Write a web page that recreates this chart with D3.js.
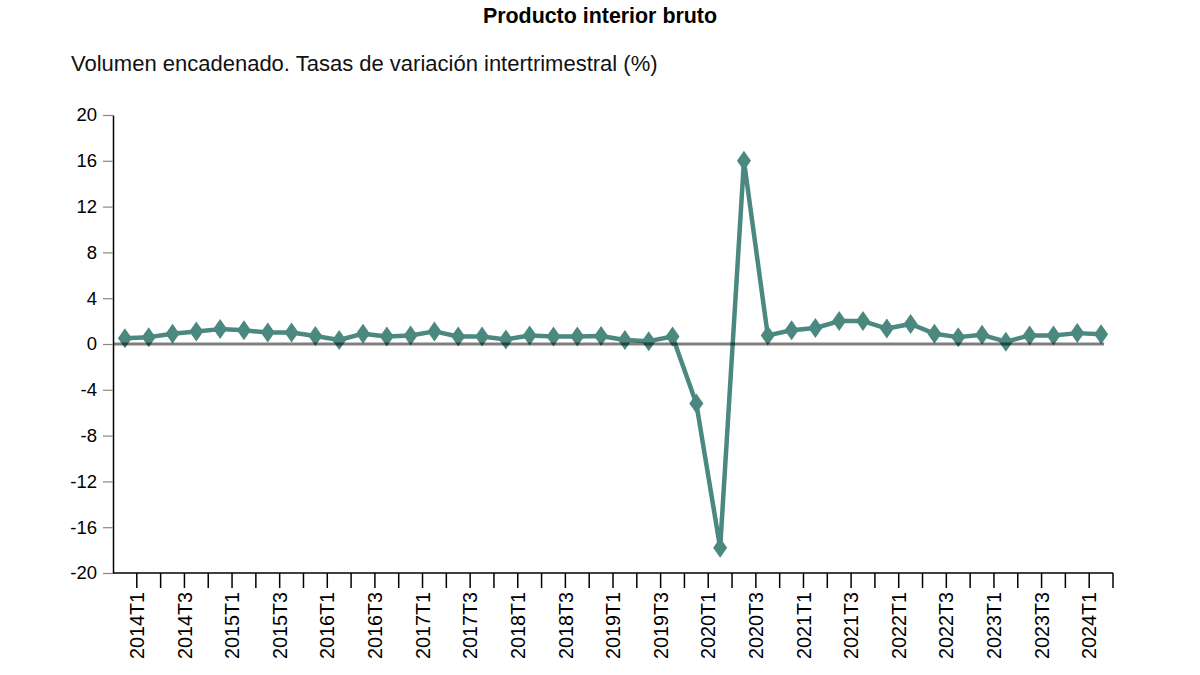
<!DOCTYPE html>
<html>
<head>
<meta charset="utf-8">
<script src="https://cdn.jsdelivr.net/npm/d3@7/dist/d3.min.js"></script>
<style>
  html, body { margin: 0; padding: 0; background: #fff; }
  svg { display: block; font-family: "Liberation Sans", Arial, Helvetica, sans-serif; }
</style>
</head>
<body>
<svg id="chart" width="1200" height="675"></svg>
<script>
const titleText = "Producto interior bruto";
const subtitleText = "Volumen encadenado. Tasas de variación intertrimestral (%)";

const years = [2014, 2015, 2016, 2017, 2018, 2019, 2020, 2021, 2022, 2023, 2024];
const quarters = [];
years.forEach(yr => [1, 2, 3, 4].forEach(q => { if (!(yr === 2024 && q > 2)) quarters.push(yr + "T" + q); }));

const values = [
  0.5, 0.6, 0.9, 1.1, 1.3, 1.2, 1.0, 1.0,
  0.7, 0.35, 0.9, 0.65, 0.75, 1.1, 0.65, 0.65,
  0.4, 0.75, 0.65, 0.65, 0.7, 0.35, 0.25, 0.65,
  -5.2, -17.8, 16.0, 0.75, 1.2, 1.4, 2.0, 2.0,
  1.35, 1.75, 0.9, 0.6, 0.8, 0.2, 0.75, 0.75,
  0.95, 0.85
];
const yTicks = [-20, -16, -12, -8, -4, 0, 4, 8, 12, 16, 20];

const svg = d3.select("#chart");
const mLeft = 113, mRight = 1113, mTop = 115, mBottom = 573;
const seriesColor = "#4b887f";

const x = d3.scaleBand().domain(quarters).range([mLeft, mRight]).padding(0);
const y = d3.scaleLinear().domain([-20, 20]).range([mBottom, mTop]);
const bw = x.bandwidth();
const cx = d => x(d) + bw / 2;

// Title and subtitle
svg.append("text").attr("x", 600).attr("y", 23).attr("text-anchor", "middle")
  .attr("font-size", 21.4).attr("font-weight", "bold").attr("fill", "#000").text(titleText);
svg.append("text").attr("x", 71).attr("y", 71)
  .attr("font-size", 22).attr("fill", "#111").text(subtitleText);

// Y axis
const yAxis = d3.axisLeft(y).tickValues(yTicks).tickFormat(d => String(d))
  .tickSize(10).tickPadding(6).tickSizeOuter(0);
const gy = svg.append("g").attr("transform", `translate(${mLeft},0)`).call(yAxis);
gy.select(".domain").attr("stroke", "#000").attr("stroke-width", 1.5);
gy.selectAll(".tick line").attr("stroke", "#888").attr("stroke-width", 1.2);
gy.selectAll(".tick text").attr("font-size", 18.5).attr("fill", "#000")
  .attr("font-family", "Liberation Sans, Arial, sans-serif");

// X axis: ticks at right edge of each band
const gx = svg.append("g").attr("transform", `translate(0,${mBottom})`);
gx.append("line").attr("x1", mLeft).attr("x2", mRight).attr("y1", 0).attr("y2", 0)
  .attr("stroke", "#000").attr("stroke-width", 1.5);
const xt = gx.selectAll("g.xt").data(quarters).join("g").attr("class", "xt")
  .attr("transform", d => `translate(${x(d) + bw},0)`);
xt.append("line").attr("y1", 0).attr("y2", 15).attr("stroke", "#000").attr("stroke-width", 1.5);
xt.filter((d, i) => i % 2 === 0).append("text")
  .attr("transform", "translate(0,19) rotate(-90)")
  .attr("text-anchor", "end").attr("dy", "0.36em")
  .attr("font-size", 19.8).attr("fill", "#000").text(d => d);

// Series line
const line = d3.line().x((d, i) => cx(quarters[i])).y(d => y(d));
svg.append("path").datum(values).attr("d", line).attr("fill", "none")
  .attr("stroke", seriesColor).attr("stroke-width", 4.5).attr("stroke-linejoin", "round");

// Markers: diamond, 14 wide x 20 tall
const diamondType = {
  draw(ctx, size) {
    const h = Math.sqrt(size / 1.4);
    const w = h * 0.7;
    ctx.moveTo(0, -h); ctx.lineTo(w, 0); ctx.lineTo(0, h); ctx.lineTo(-w, 0); ctx.closePath();
  }
};
const diamond = d3.symbol().type(diamondType).size(1.4 * 100);
svg.selectAll("path.mk").data(values).join("path").attr("class", "mk")
  .attr("transform", (d, i) => `translate(${cx(quarters[i])},${y(d)})`)
  .attr("d", diamond).attr("fill", seriesColor);

// Zero line on top
svg.append("line").attr("x1", mLeft).attr("x2", cx(quarters[quarters.length - 1]) + 3)
  .attr("y1", y(0)).attr("y2", y(0))
  .attr("stroke", "#000").attr("stroke-opacity", 0.5).attr("stroke-width", 3);
</script>
</body>
</html>
